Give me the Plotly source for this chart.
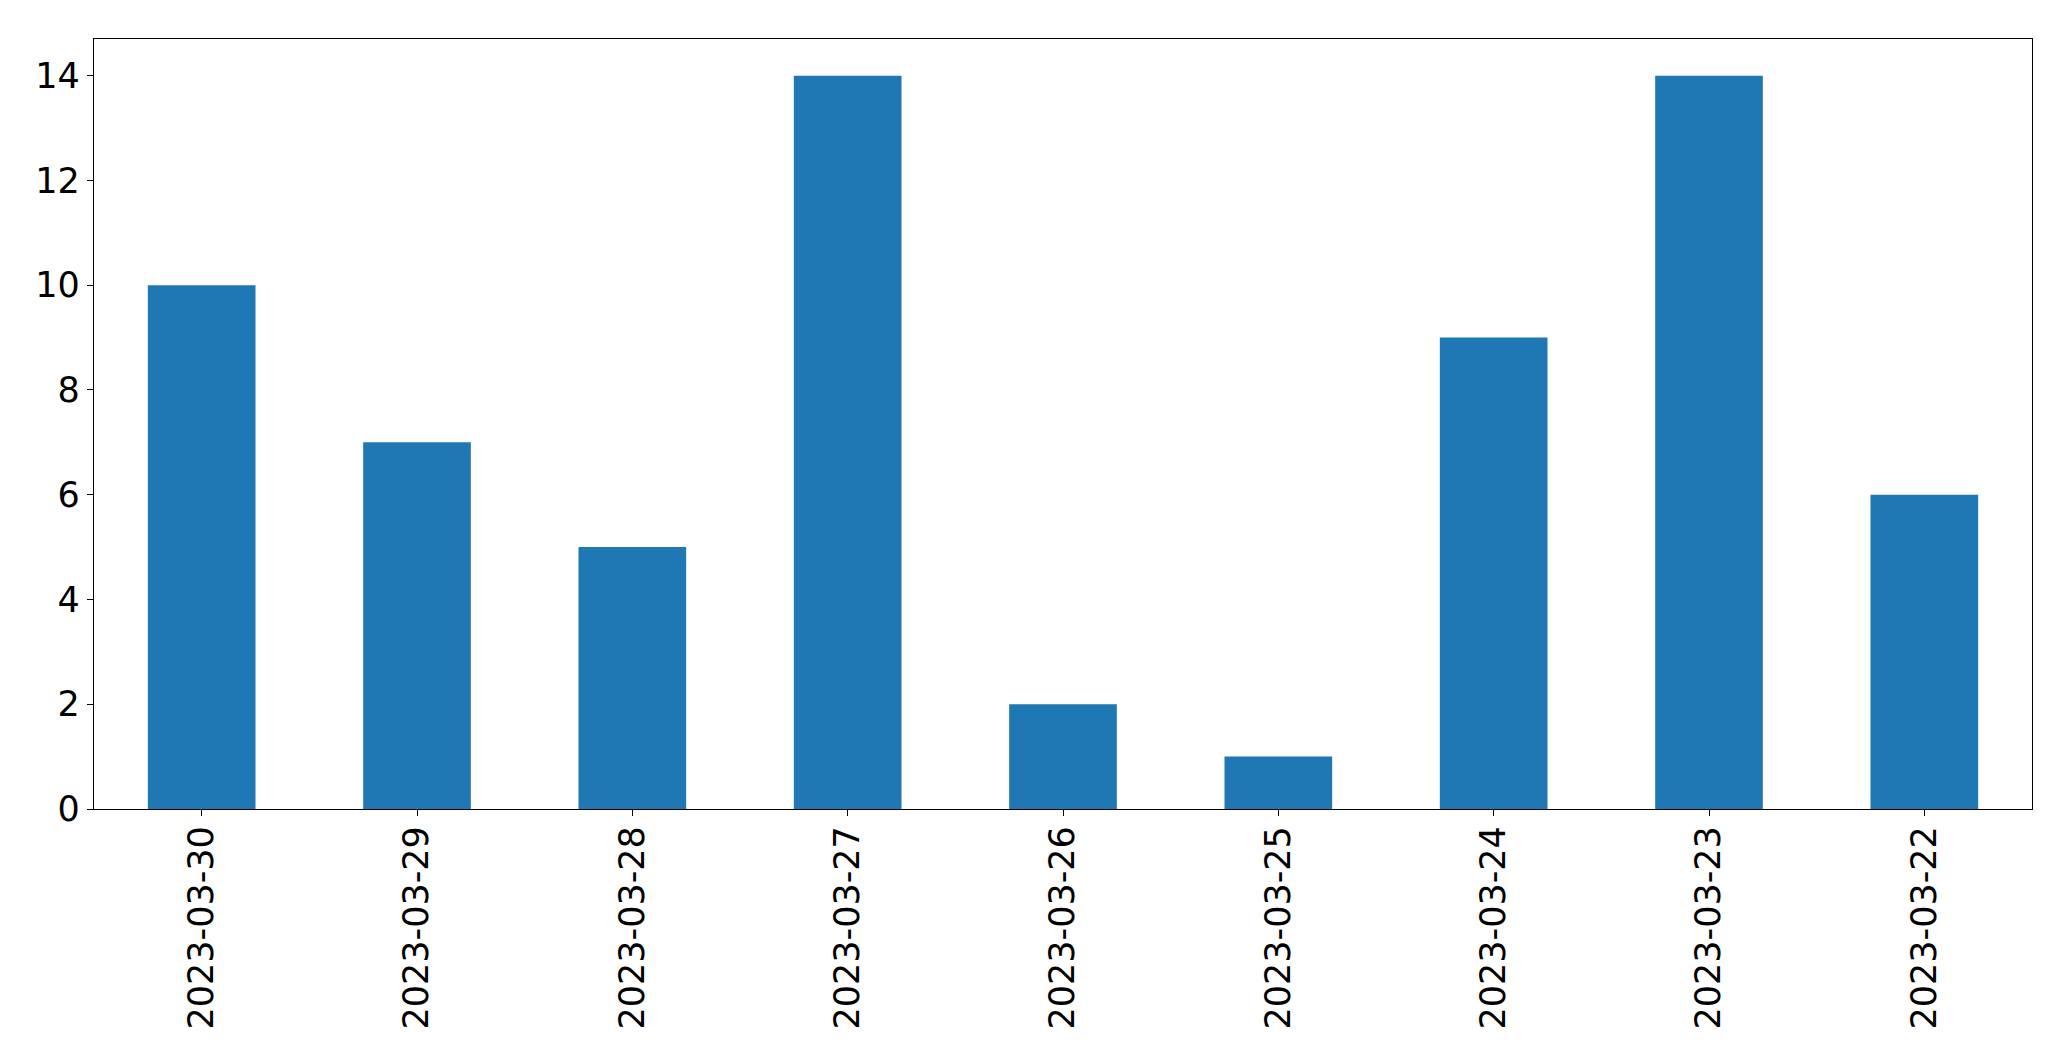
import plotly.graph_objects as go

dates = ["2023-03-30", "2023-03-29", "2023-03-28", "2023-03-27", "2023-03-26",
         "2023-03-25", "2023-03-24", "2023-03-23", "2023-03-22"]
counts = [10, 7, 5, 14, 2, 1, 9, 14, 6]
y_ticks = [0, 2, 4, 6, 8, 10, 12, 14]

fig = go.Figure(go.Bar(x=dates, y=counts, width=0.5, marker=dict(color="#1f77b4", line=dict(width=0))))

axis_common = dict(showline=True, linecolor="black", linewidth=1.3, mirror=True,
                   ticks="outside", ticklen=6, tickwidth=1.3, tickcolor="black",
                   showgrid=False, zeroline=False, automargin=False,
                   tickfont=dict(family="DejaVu Sans", size=35, color="black"))

# page body has an 8px default margin, so the figure is sized to fit the window
fig.update_layout(
    template="none",
    width=2055, height=1045,
    margin=dict(l=86, r=31, t=31, b=244),
    plot_bgcolor="white", paper_bgcolor="white",
    showlegend=False,
    xaxis=dict(type="category", range=[-0.5, 8.5], tickangle=-90, ticklabelstandoff=-4, **axis_common),
    yaxis=dict(range=[0, 14.7], tickvals=y_ticks, **axis_common),
)

fig.write_html("out.html")
